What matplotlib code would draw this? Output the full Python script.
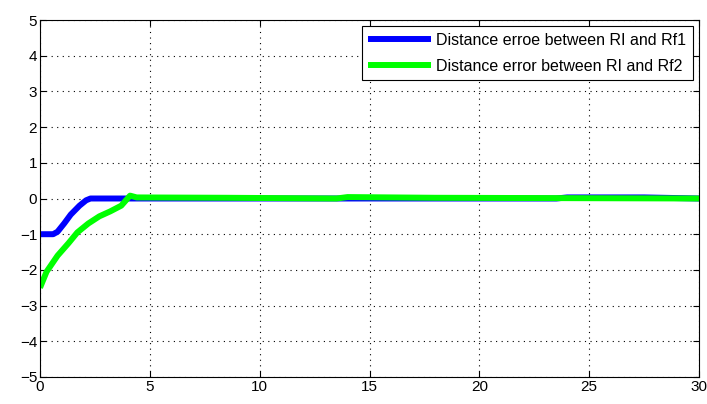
import matplotlib
matplotlib.use("Agg")
import matplotlib.pyplot as plt

# ── Données ───────────────────────────────────────────────────────────────────
t_rf1 = [0, 0.6, 0.8, 1.1, 1.4, 1.8, 2.1, 2.3, 4.5, 8.5, 14, 18, 23.5, 24, 27.5, 30]
d_rf1 = [-1, -1, -0.93, -0.7, -0.45, -0.2, -0.05, 0, 0, 0, 0, 0, 0, 0.03, 0.03, 0]

t_rf2 = [0, 0.3, 0.8, 1.3, 1.7, 2.2, 2.7, 3.2, 3.7, 4.1, 4.4, 8.5, 13.5, 14, 18, 30]
d_rf2 = [-2.5, -2.05, -1.6, -1.25, -0.95, -0.7, -0.5, -0.36, -0.2, 0.08, 0.03, 0.02, 0.0, 0.04, 0.02, 0]

labels = ["Distance erroe between RI and Rf1", "Distance error between RI and Rf2"]
xticks = [0, 5, 10, 15, 20, 25, 30]
yticks = [-5, -4, -3, -2, -1, 0, 1, 2, 3, 4, 5]

plt.rcParams["font.family"] = ["Liberation Sans", "DejaVu Sans"]

fig = plt.figure(figsize=(7.07, 4.04), dpi=100)
ax = fig.add_axes([40 / 707, 27 / 404, 659 / 707, 357 / 404])

ax.plot(t_rf1, d_rf1, color="#0000ff", lw=4.3, label=labels[0], solid_capstyle="butt")
ax.plot(t_rf2, d_rf2, color="#00ff00", lw=4.3, label=labels[1], solid_capstyle="butt")

ax.set_xlim(0, 30)
ax.set_ylim(-5, 5)
ax.set_xticks(xticks)
ax.set_yticks(yticks)
ax.tick_params(direction="in", top=True, right=True, length=4, labelsize=11, pad=2)
ax.grid(True, color="black", linestyle=(0, (1, 4)), linewidth=0.8)
for s in ax.spines.values():
    s.set_linewidth(0.8)

leg = ax.legend(loc="upper right", fontsize=11.5, handlelength=3.9, fancybox=False,
                framealpha=1, edgecolor="black", borderaxespad=0.4,
                labelspacing=0.7, handletextpad=0.35, borderpad=0.4)
leg.get_frame().set_linewidth(0.8)

fig.savefig("out.png", dpi=100)
